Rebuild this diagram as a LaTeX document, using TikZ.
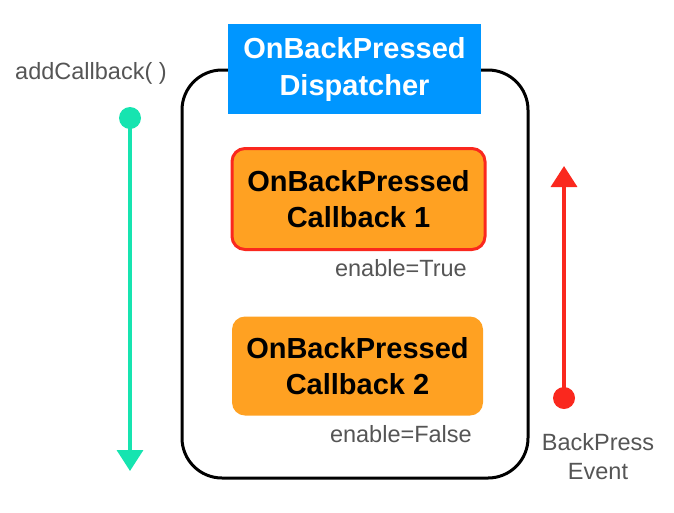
\documentclass[tikz,border=0pt]{standalone}
\usepackage{fontspec}
\setmainfont{Liberation Sans}
\usetikzlibrary{arrows.meta}
\definecolor{dispblue}{RGB}{0,150,255}
\definecolor{cborange}{RGB}{255,161,34}
\definecolor{cbred}{RGB}{250,40,30}
\definecolor{mint}{RGB}{22,228,176}
\definecolor{txtgray}{RGB}{85,85,85}
\tikzset{
  cbbox/.style={fill=cborange, rounded corners=13pt, minimum width=253pt, minimum height=101pt, align=center, inner sep=0pt, font=\fontsize{29}{35.5}\selectfont\bfseries},
  note/.style={text=txtgray, font=\fontsize{23.5}{29}\selectfont, inner sep=0pt},
  dot/.style={circle, inner sep=0pt, minimum size=22pt},
}
\begin{document}
\begin{tikzpicture}[x=1pt,y=-1pt]
\useasboundingbox (0,0) rectangle (674,512);
% outer container
\draw[line width=3pt, rounded corners=40pt] (182,70) rectangle (528,478);
% dispatcher
\node[fill=dispblue, minimum width=253pt, minimum height=90pt, inner sep=0pt, align=center, text=white, font=\fontsize{29}{37}\selectfont\bfseries] (disp) at (354.5,69) {OnBackPressed\\Dispatcher};
% callbacks
\node[cbbox, draw=cbred, line width=3pt] (cb1) at (358.5,199) {OnBackPressed\\Callback 1};
\node[cbbox, minimum width=251pt, minimum height=99pt] (cb2) at (357.5,366) {OnBackPressed\\Callback 2};
\node[note, anchor=east] (en1) at (467,268) {enable=True};
\node[note, anchor=east] (en2) at (472,434) {enable=False};
% left arrow
\node[note] (add) at (91,73) {addCallback( )};
\node[dot, fill=mint] (gstart) at (130,118) {};
\coordinate (gend) at (130,471);
\draw[mint, line width=3.5pt, -{Triangle[width=26pt,length=21pt]}] (gstart.center) -- (gend);
% right arrow
\node[dot, fill=cbred] (rstart) at (564,398) {};
\coordinate (rend) at (564,166);
\draw[cbred, line width=3.5pt, -{Triangle[width=26pt,length=21pt]}] (rstart.center) -- (rend);
\node[note, align=center] (bp) at (598,457) {BackPress\\Event};
\end{tikzpicture}
\end{document}
